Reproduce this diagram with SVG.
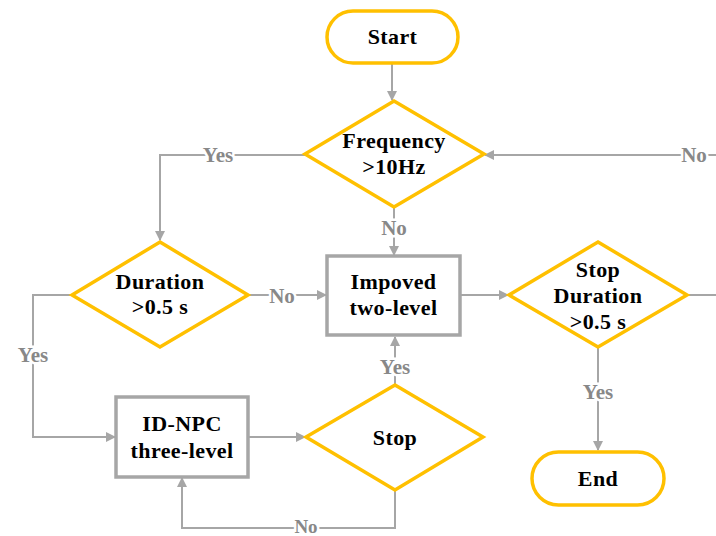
<svg xmlns="http://www.w3.org/2000/svg" width="716" height="536" viewBox="0 0 716 536">
<defs>
<marker id="ah" markerWidth="10" markerHeight="10" refX="9" refY="5" orient="auto" markerUnits="userSpaceOnUse">
<path d="M0,0 L10,5 L0,10 Z" fill="#A6A6A6"/>
</marker>
<style>
.term{fill:#fff;stroke:#FFC000;stroke-width:3.5}
.dec{fill:#fff;stroke:#FFC000;stroke-width:3.5}
.proc{fill:#fff;stroke:#A6A6A6;stroke-width:3.5}
.t{font-family:"Liberation Serif","Times New Roman",serif;font-weight:bold;font-size:22px;letter-spacing:0.4px;fill:#000;text-anchor:middle}
.c{fill:none;stroke:#A6A6A6;stroke-width:2}
.lbl{font-family:"Liberation Serif","Times New Roman",serif;font-weight:bold;font-size:21px;fill:#888;text-anchor:middle;stroke:#fff;stroke-width:5;paint-order:stroke}
</style>
</defs>
<rect width="716" height="536" fill="#fff"/>
<g id="connectors">
<path class="c" d="M392,63 V100" marker-end="url(#ah)"/>
<path class="c" d="M305,155 H160 V240" marker-end="url(#ah)"/>
<path class="c" d="M394,207 V255" marker-end="url(#ah)"/>
<path class="c" d="M716,155 H485" marker-end="url(#ah)"/>
<path class="c" d="M248,295 H326" marker-end="url(#ah)"/>
<path class="c" d="M72,295 H33 V437 H115" marker-end="url(#ah)"/>
<path class="c" d="M460,295 H508" marker-end="url(#ah)"/>
<path class="c" d="M687,295 H716"/>
<path class="c" d="M598,347 V450" marker-end="url(#ah)"/>
<path class="c" d="M248,437 H305" marker-end="url(#ah)"/>
<path class="c" d="M395,385 V337" marker-end="url(#ah)"/>
<path class="c" d="M395,490 V528 H182 V478" marker-end="url(#ah)"/>
<text class="lbl" x="218" y="162">Yes</text>
<text class="lbl" x="394" y="235">No</text>
<text class="lbl" x="694" y="162">No</text>
<text class="lbl" x="282" y="303">No</text>
<text class="lbl" x="33" y="362">Yes</text>
<text class="lbl" x="598" y="399">Yes</text>
<text class="lbl" x="395" y="374">Yes</text>
<text class="lbl" x="306" y="533" style="font-size:19px">No</text>
</g>
<g id="start">
<rect class="term" x="327" y="11" width="131" height="52" rx="26"/>
<text class="t" x="392.5" y="44">Start</text>
</g>
<g id="frequency">
<polygon class="dec" points="394,101 484,154 394,207 305,154"/>
<text class="t" x="394" y="148">Frequency</text>
<text class="t" x="394" y="174">&gt;10Hz</text>
</g>
<g id="duration">
<polygon class="dec" points="160,242 248,295 160,347 72,295"/>
<text class="t" x="160" y="289">Duration</text>
<text class="t" x="160" y="314">&gt;0.5 s</text>
</g>
<g id="improved">
<rect class="proc" x="327" y="256" width="133" height="79"/>
<text class="t" x="393.5" y="289">Impoved</text>
<text class="t" x="393.5" y="315">two-level</text>
</g>
<g id="stopduration">
<polygon class="dec" points="598,242 687,295 598,347 509,295"/>
<text class="t" x="598" y="277">Stop</text>
<text class="t" x="598" y="303">Duration</text>
<text class="t" x="598" y="329">&gt;0.5 s</text>
</g>
<g id="end">
<rect class="term" x="532" y="452" width="132" height="53" rx="26.5"/>
<text class="t" x="598" y="486">End</text>
</g>
<g id="idnpc">
<rect class="proc" x="116" y="397" width="132" height="80"/>
<text class="t" x="182" y="431">ID-NPC</text>
<text class="t" x="182" y="458">three-level</text>
</g>
<g id="stop">
<polygon class="dec" points="395,385 483,437 395,490 306,437"/>
<text class="t" x="395" y="445">Stop</text>
</g>
</svg>
